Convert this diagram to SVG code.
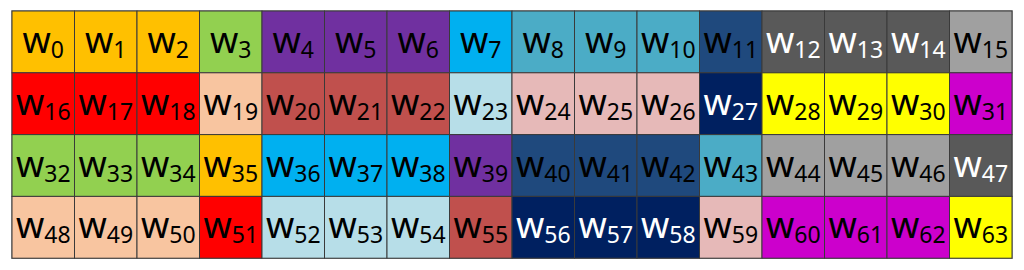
<svg xmlns="http://www.w3.org/2000/svg" width="1024" height="270" viewBox="0 0 1024 270">
<style>
rect{stroke:#3a3a3a;stroke-width:1}
text{font-family:"Noto Sans","Open Sans",sans-serif;font-size:36px;fill:#000;text-anchor:middle}
tspan{font-size:23px}
.wt text{fill:#fff}
.or rect{fill:#FFC000}.gr rect{fill:#92D050}.pu rect{fill:#7030A0}.cy rect{fill:#00B0F0}
.tq rect{fill:#4BACC6}.nb rect{fill:#1F497D}.dg rect{fill:#595959}.lg rect{fill:#A0A0A0}
.rd rect{fill:#FF0000}.pe rect{fill:#F8C5A0}.br rect{fill:#C0504D}.lb rect{fill:#B7DEE8}
.pk rect{fill:#E6B9B8}.dn rect{fill:#002060}.ye rect{fill:#FFFF00}.mg rect{fill:#CC00CC}
</style>
<rect x="12" y="11" width="1000" height="247.2" fill="none" style="stroke:#808080;stroke-width:1.5"/>
<g id="w0" class="or"><rect x="12" y="11" width="62.5" height="61.8"/><text x="43.25" y="53">w<tspan dy="5">0</tspan></text></g>
<g id="w1" class="or"><rect x="74.5" y="11" width="62.5" height="61.8"/><text x="105.75" y="53">w<tspan dy="5">1</tspan></text></g>
<g id="w2" class="or"><rect x="137" y="11" width="62.5" height="61.8"/><text x="168.25" y="53">w<tspan dy="5">2</tspan></text></g>
<g id="w3" class="gr"><rect x="199.5" y="11" width="62.5" height="61.8"/><text x="230.75" y="53">w<tspan dy="5">3</tspan></text></g>
<g id="w4" class="pu"><rect x="262" y="11" width="62.5" height="61.8"/><text x="293.25" y="53">w<tspan dy="5">4</tspan></text></g>
<g id="w5" class="pu"><rect x="324.5" y="11" width="62.5" height="61.8"/><text x="355.75" y="53">w<tspan dy="5">5</tspan></text></g>
<g id="w6" class="pu"><rect x="387" y="11" width="62.5" height="61.8"/><text x="418.25" y="53">w<tspan dy="5">6</tspan></text></g>
<g id="w7" class="cy"><rect x="449.5" y="11" width="62.5" height="61.8"/><text x="480.75" y="53">w<tspan dy="5">7</tspan></text></g>
<g id="w8" class="tq"><rect x="512" y="11" width="62.5" height="61.8"/><text x="543.25" y="53">w<tspan dy="5">8</tspan></text></g>
<g id="w9" class="tq"><rect x="574.5" y="11" width="62.5" height="61.8"/><text x="605.75" y="53">w<tspan dy="5">9</tspan></text></g>
<g id="w10" class="tq"><rect x="637" y="11" width="62.5" height="61.8"/><text x="668.25" y="53">w<tspan dy="5">10</tspan></text></g>
<g id="w11" class="nb"><rect x="699.5" y="11" width="62.5" height="61.8"/><text x="730.75" y="53">w<tspan dy="5">11</tspan></text></g>
<g id="w12" class="dg wt"><rect x="762" y="11" width="62.5" height="61.8"/><text x="793.25" y="53">w<tspan dy="5">12</tspan></text></g>
<g id="w13" class="dg wt"><rect x="824.5" y="11" width="62.5" height="61.8"/><text x="855.75" y="53">w<tspan dy="5">13</tspan></text></g>
<g id="w14" class="dg wt"><rect x="887" y="11" width="62.5" height="61.8"/><text x="918.25" y="53">w<tspan dy="5">14</tspan></text></g>
<g id="w15" class="lg"><rect x="949.5" y="11" width="62.5" height="61.8"/><text x="980.75" y="53">w<tspan dy="5">15</tspan></text></g>

<g id="w16" class="rd"><rect x="12" y="72.8" width="62.5" height="61.8"/><text x="43.25" y="114.8">w<tspan dy="5">16</tspan></text></g>
<g id="w17" class="rd"><rect x="74.5" y="72.8" width="62.5" height="61.8"/><text x="105.75" y="114.8">w<tspan dy="5">17</tspan></text></g>
<g id="w18" class="rd"><rect x="137" y="72.8" width="62.5" height="61.8"/><text x="168.25" y="114.8">w<tspan dy="5">18</tspan></text></g>
<g id="w19" class="pe"><rect x="199.5" y="72.8" width="62.5" height="61.8"/><text x="230.75" y="114.8">w<tspan dy="5">19</tspan></text></g>
<g id="w20" class="br"><rect x="262" y="72.8" width="62.5" height="61.8"/><text x="293.25" y="114.8">w<tspan dy="5">20</tspan></text></g>
<g id="w21" class="br"><rect x="324.5" y="72.8" width="62.5" height="61.8"/><text x="355.75" y="114.8">w<tspan dy="5">21</tspan></text></g>
<g id="w22" class="br"><rect x="387" y="72.8" width="62.5" height="61.8"/><text x="418.25" y="114.8">w<tspan dy="5">22</tspan></text></g>
<g id="w23" class="lb"><rect x="449.5" y="72.8" width="62.5" height="61.8"/><text x="480.75" y="114.8">w<tspan dy="5">23</tspan></text></g>
<g id="w24" class="pk"><rect x="512" y="72.8" width="62.5" height="61.8"/><text x="543.25" y="114.8">w<tspan dy="5">24</tspan></text></g>
<g id="w25" class="pk"><rect x="574.5" y="72.8" width="62.5" height="61.8"/><text x="605.75" y="114.8">w<tspan dy="5">25</tspan></text></g>
<g id="w26" class="pk"><rect x="637" y="72.8" width="62.5" height="61.8"/><text x="668.25" y="114.8">w<tspan dy="5">26</tspan></text></g>
<g id="w27" class="dn wt"><rect x="699.5" y="72.8" width="62.5" height="61.8"/><text x="730.75" y="114.8">w<tspan dy="5">27</tspan></text></g>
<g id="w28" class="ye"><rect x="762" y="72.8" width="62.5" height="61.8"/><text x="793.25" y="114.8">w<tspan dy="5">28</tspan></text></g>
<g id="w29" class="ye"><rect x="824.5" y="72.8" width="62.5" height="61.8"/><text x="855.75" y="114.8">w<tspan dy="5">29</tspan></text></g>
<g id="w30" class="ye"><rect x="887" y="72.8" width="62.5" height="61.8"/><text x="918.25" y="114.8">w<tspan dy="5">30</tspan></text></g>
<g id="w31" class="mg"><rect x="949.5" y="72.8" width="62.5" height="61.8"/><text x="980.75" y="114.8">w<tspan dy="5">31</tspan></text></g>

<g id="w32" class="gr"><rect x="12" y="134.6" width="62.5" height="61.8"/><text x="43.25" y="176.6">w<tspan dy="5">32</tspan></text></g>
<g id="w33" class="gr"><rect x="74.5" y="134.6" width="62.5" height="61.8"/><text x="105.75" y="176.6">w<tspan dy="5">33</tspan></text></g>
<g id="w34" class="gr"><rect x="137" y="134.6" width="62.5" height="61.8"/><text x="168.25" y="176.6">w<tspan dy="5">34</tspan></text></g>
<g id="w35" class="or"><rect x="199.5" y="134.6" width="62.5" height="61.8"/><text x="230.75" y="176.6">w<tspan dy="5">35</tspan></text></g>
<g id="w36" class="cy"><rect x="262" y="134.6" width="62.5" height="61.8"/><text x="293.25" y="176.6">w<tspan dy="5">36</tspan></text></g>
<g id="w37" class="cy"><rect x="324.5" y="134.6" width="62.5" height="61.8"/><text x="355.75" y="176.6">w<tspan dy="5">37</tspan></text></g>
<g id="w38" class="cy"><rect x="387" y="134.6" width="62.5" height="61.8"/><text x="418.25" y="176.6">w<tspan dy="5">38</tspan></text></g>
<g id="w39" class="pu"><rect x="449.5" y="134.6" width="62.5" height="61.8"/><text x="480.75" y="176.6">w<tspan dy="5">39</tspan></text></g>
<g id="w40" class="nb"><rect x="512" y="134.6" width="62.5" height="61.8"/><text x="543.25" y="176.6">w<tspan dy="5">40</tspan></text></g>
<g id="w41" class="nb"><rect x="574.5" y="134.6" width="62.5" height="61.8"/><text x="605.75" y="176.6">w<tspan dy="5">41</tspan></text></g>
<g id="w42" class="nb"><rect x="637" y="134.6" width="62.5" height="61.8"/><text x="668.25" y="176.6">w<tspan dy="5">42</tspan></text></g>
<g id="w43" class="tq"><rect x="699.5" y="134.6" width="62.5" height="61.8"/><text x="730.75" y="176.6">w<tspan dy="5">43</tspan></text></g>
<g id="w44" class="lg"><rect x="762" y="134.6" width="62.5" height="61.8"/><text x="793.25" y="176.6">w<tspan dy="5">44</tspan></text></g>
<g id="w45" class="lg"><rect x="824.5" y="134.6" width="62.5" height="61.8"/><text x="855.75" y="176.6">w<tspan dy="5">45</tspan></text></g>
<g id="w46" class="lg"><rect x="887" y="134.6" width="62.5" height="61.8"/><text x="918.25" y="176.6">w<tspan dy="5">46</tspan></text></g>
<g id="w47" class="dg wt"><rect x="949.5" y="134.6" width="62.5" height="61.8"/><text x="980.75" y="176.6">w<tspan dy="5">47</tspan></text></g>

<g id="w48" class="pe"><rect x="12" y="196.4" width="62.5" height="61.8"/><text x="43.25" y="238.4">w<tspan dy="5">48</tspan></text></g>
<g id="w49" class="pe"><rect x="74.5" y="196.4" width="62.5" height="61.8"/><text x="105.75" y="238.4">w<tspan dy="5">49</tspan></text></g>
<g id="w50" class="pe"><rect x="137" y="196.4" width="62.5" height="61.8"/><text x="168.25" y="238.4">w<tspan dy="5">50</tspan></text></g>
<g id="w51" class="rd"><rect x="199.5" y="196.4" width="62.5" height="61.8"/><text x="230.75" y="238.4">w<tspan dy="5">51</tspan></text></g>
<g id="w52" class="lb"><rect x="262" y="196.4" width="62.5" height="61.8"/><text x="293.25" y="238.4">w<tspan dy="5">52</tspan></text></g>
<g id="w53" class="lb"><rect x="324.5" y="196.4" width="62.5" height="61.8"/><text x="355.75" y="238.4">w<tspan dy="5">53</tspan></text></g>
<g id="w54" class="lb"><rect x="387" y="196.4" width="62.5" height="61.8"/><text x="418.25" y="238.4">w<tspan dy="5">54</tspan></text></g>
<g id="w55" class="br"><rect x="449.5" y="196.4" width="62.5" height="61.8"/><text x="480.75" y="238.4">w<tspan dy="5">55</tspan></text></g>
<g id="w56" class="dn wt"><rect x="512" y="196.4" width="62.5" height="61.8"/><text x="543.25" y="238.4">w<tspan dy="5">56</tspan></text></g>
<g id="w57" class="dn wt"><rect x="574.5" y="196.4" width="62.5" height="61.8"/><text x="605.75" y="238.4">w<tspan dy="5">57</tspan></text></g>
<g id="w58" class="dn wt"><rect x="637" y="196.4" width="62.5" height="61.8"/><text x="668.25" y="238.4">w<tspan dy="5">58</tspan></text></g>
<g id="w59" class="pk"><rect x="699.5" y="196.4" width="62.5" height="61.8"/><text x="730.75" y="238.4">w<tspan dy="5">59</tspan></text></g>
<g id="w60" class="mg"><rect x="762" y="196.4" width="62.5" height="61.8"/><text x="793.25" y="238.4">w<tspan dy="5">60</tspan></text></g>
<g id="w61" class="mg"><rect x="824.5" y="196.4" width="62.5" height="61.8"/><text x="855.75" y="238.4">w<tspan dy="5">61</tspan></text></g>
<g id="w62" class="mg"><rect x="887" y="196.4" width="62.5" height="61.8"/><text x="918.25" y="238.4">w<tspan dy="5">62</tspan></text></g>
<g id="w63" class="ye"><rect x="949.5" y="196.4" width="62.5" height="61.8"/><text x="980.75" y="238.4">w<tspan dy="5">63</tspan></text></g>
</svg>
